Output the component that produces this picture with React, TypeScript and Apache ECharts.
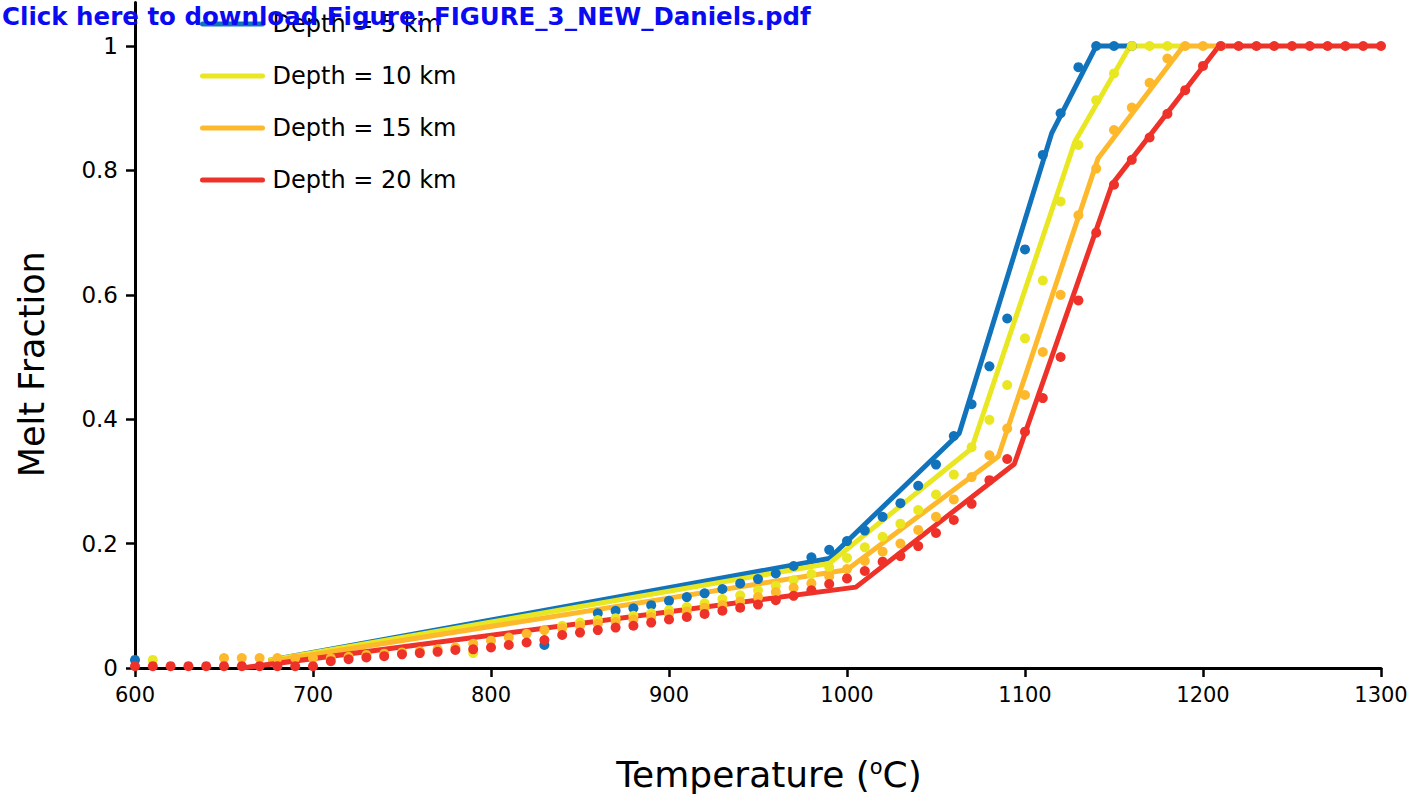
import React, { useEffect, useRef } from 'react';
import * as echarts from 'echarts';

const FONT = '"DejaVu Sans", sans-serif';

const titleText = 'Click here to download Figure: FIGURE_3_NEW_Daniels.pdf';
const xAxisName = 'Temperature ({sup|o}C)';
const yAxisName = 'Melt Fraction';

const depthNames = ['Depth = 5 km', 'Depth = 10 km', 'Depth = 15 km', 'Depth = 20 km'];
const dotNames = ['5 km data', '10 km data', '15 km data', '20 km data'];
const colors = ['#1173BB', '#E9E722', '#FDB92B', '#EE3229'];

const xTicks = [600, 700, 800, 900, 1000, 1100, 1200, 1300];
const yTicks = [0, 0.2, 0.4, 0.6, 0.8, 1];

// model lines (piecewise)
const lineT5 = [675, 990, 1063, 1115, 1140, 1160];
const lineV5 = [0.012, 0.176, 0.377, 0.86, 1.0, 1.0];
const lineT10 = [675, 990, 1070, 1128, 1159, 1190];
const lineV10 = [0.012, 0.168, 0.353, 0.846, 1.0, 1.0];
const lineT15 = [675, 1000, 1085, 1141, 1189, 1210];
const lineV15 = [0.01, 0.158, 0.34, 0.819, 1.0, 1.0];
const lineT20 = [660, 1005, 1094, 1149, 1209, 1300];
const lineV20 = [0.0, 0.13, 0.328, 0.778, 1.0, 1.0];

// data points
const dotT5 = [600, 830, 860, 870, 880, 890, 900, 910, 920, 930, 940, 950, 960, 970, 980, 990, 1000, 1010, 1020, 1030, 1040, 1050, 1060, 1070, 1080, 1090, 1100, 1110, 1120, 1130, 1140, 1150, 1160];
const dotV5 = [0.013, 0.037, 0.088, 0.092, 0.096, 0.101, 0.108, 0.114, 0.12, 0.127, 0.136, 0.143, 0.152, 0.164, 0.178, 0.19, 0.204, 0.221, 0.243, 0.265, 0.293, 0.327, 0.373, 0.424, 0.485, 0.562, 0.673, 0.825, 0.892, 0.966, 1.0, 1.0, 1.0];

const dotT10 = [610, 790, 840, 850, 860, 870, 880, 890, 900, 910, 920, 930, 940, 950, 960, 970, 980, 990, 1000, 1010, 1020, 1030, 1040, 1050, 1060, 1070, 1080, 1090, 1100, 1110, 1120, 1130, 1140, 1150, 1160, 1170, 1180];
const dotV10 = [0.013, 0.024, 0.068, 0.073, 0.077, 0.08, 0.084, 0.088, 0.093, 0.098, 0.104, 0.111, 0.117, 0.125, 0.132, 0.141, 0.151, 0.162, 0.177, 0.194, 0.211, 0.232, 0.254, 0.279, 0.311, 0.355, 0.399, 0.455, 0.53, 0.623, 0.75, 0.841, 0.913, 0.956, 1.0, 1.0, 1.0];

const dotT15 = [650, 660, 670, 680, 690, 700, 710, 720, 730, 740, 750, 760, 770, 780, 790, 800, 810, 820, 830, 840, 850, 860, 870, 880, 890, 900, 910, 920, 930, 940, 950, 960, 970, 980, 990, 1000, 1010, 1020, 1030, 1040, 1050, 1060, 1070, 1080, 1090, 1100, 1110, 1120, 1130, 1140, 1150, 1160, 1170, 1180, 1190, 1200, 1210];
const dotV15 = [0.016, 0.016, 0.016, 0.016, 0.016, 0.016, 0.016, 0.018, 0.021, 0.023, 0.025, 0.027, 0.03, 0.033, 0.039, 0.044, 0.049, 0.055, 0.061, 0.064, 0.068, 0.071, 0.074, 0.078, 0.082, 0.087, 0.091, 0.097, 0.101, 0.107, 0.114, 0.122, 0.129, 0.136, 0.147, 0.159, 0.172, 0.187, 0.2, 0.222, 0.243, 0.271, 0.307, 0.342, 0.385, 0.439, 0.508, 0.6, 0.728, 0.803, 0.865, 0.901, 0.941, 0.98, 1.0, 1.0, 1.0];

const dotT20 = [600, 610, 620, 630, 640, 650, 660, 670, 680, 690, 700, 710, 720, 730, 740, 750, 760, 770, 780, 790, 800, 810, 820, 830, 840, 850, 860, 870, 880, 890, 900, 910, 920, 930, 940, 950, 960, 970, 980, 990, 1000, 1010, 1020, 1030, 1040, 1050, 1060, 1070, 1080, 1090, 1100, 1110, 1120, 1130, 1140, 1150, 1160, 1170, 1180, 1190, 1200, 1210, 1220, 1230, 1240, 1250, 1260, 1270, 1280, 1290, 1300];
const dotV20 = [0.003, 0.003, 0.003, 0.003, 0.003, 0.003, 0.003, 0.003, 0.003, 0.003, 0.003, 0.011, 0.014, 0.017, 0.019, 0.022, 0.024, 0.026, 0.029, 0.03, 0.033, 0.037, 0.041, 0.045, 0.053, 0.057, 0.061, 0.065, 0.068, 0.073, 0.078, 0.082, 0.087, 0.092, 0.097, 0.102, 0.109, 0.116, 0.125, 0.135, 0.144, 0.156, 0.171, 0.18, 0.196, 0.217, 0.238, 0.264, 0.302, 0.336, 0.38, 0.434, 0.5, 0.591, 0.7, 0.777, 0.817, 0.853, 0.891, 0.929, 0.968, 1.0, 1.0, 1.0, 1.0, 1.0, 1.0, 1.0, 1.0, 1.0, 1.0];

const lineTs = [lineT5, lineT10, lineT15, lineT20];
const lineVs = [lineV5, lineV10, lineV15, lineV20];
const dotTs = [dotT5, dotT10, dotT15, dotT20];
const dotVs = [dotV5, dotV10, dotV15, dotV20];

const zip = (a: number[], b: number[]) => a.map((t, i) => [t, b[i]]);

export default function App() {
  const ref = useRef<HTMLDivElement>(null);
  useEffect(() => {
    if (!ref.current) return;
    const chart = echarts.init(ref.current, undefined, { renderer: 'svg' });
    const lineSeries = depthNames.map((name, i) => ({
      name,
      type: 'line',
      data: zip(lineTs[i], lineVs[i]),
      symbol: 'none',
      showSymbol: false,
      lineStyle: { color: colors[i], width: 5 },
      itemStyle: { color: colors[i] },
      z: 2,
    }));
    const dotSeries = dotNames.map((name, i) => ({
      name,
      type: 'scatter',
      data: zip(dotTs[i], dotVs[i]),
      symbol: 'circle',
      symbolSize: 10,
      itemStyle: { color: colors[i], opacity: 1 },
      z: 3,
    }));
    chart.setOption({
      animation: false,
      backgroundColor: '#ffffff',
      title: {
        text: titleText,
        left: 2,
        top: 4,
        padding: 0,
        z: 10,
        textStyle: { fontFamily: FONT, fontSize: 24.5, fontWeight: 'bold', color: '#0B0BF2' },
      },
      legend: {
        data: depthNames,
        orient: 'vertical',
        left: 200,
        top: 10,
        padding: 0,
        itemWidth: 60,
        itemHeight: 28,
        itemGap: 24,
        itemStyle: { opacity: 0, borderWidth: 0 },
        lineStyle: { width: 5, cap: 'round' },
        textStyle: { fontFamily: FONT, fontSize: 24, color: '#000', padding: [0, 0, 0, 5], lineHeight: 28 },
        z: 4,
      },
      grid: { left: 135, right: 38, top: 2.5, bottom: 134, containLabel: false },
      xAxis: {
        type: 'value',
        min: 600,
        max: 1300,
        interval: 100,
        name: xAxisName,
        nameLocation: 'middle',
        nameGap: 88,
        nameTextStyle: {
          fontFamily: FONT,
          fontSize: 36,
          color: '#000',
          padding: [0, 0, 0, 22],
          rich: { sup: { fontFamily: FONT, fontSize: 21, color: '#000', verticalAlign: 'top', lineHeight: 22 } },
        },
        splitLine: { show: false },
        axisLine: { onZero: false, lineStyle: { color: '#000', width: 3 } },
        axisTick: { show: true, inside: false, length: 9, lineStyle: { color: '#000', width: 2.5 } },
        axisLabel: {
          fontFamily: FONT,
          fontSize: 21,
          color: '#000',
          margin: 16,
          customValues: xTicks,
          formatter: (v: number) => String(v),
        },
      },
      yAxis: {
        type: 'value',
        min: 0,
        max: 1.07,
        name: yAxisName,
        nameLocation: 'middle',
        nameGap: 86,
        nameTextStyle: { fontFamily: FONT, fontSize: 35, color: '#000', padding: [0, 58, 0, 0] },
        splitLine: { show: false },
        axisLine: { onZero: false, lineStyle: { color: '#000', width: 3 } },
        axisTick: { show: true, inside: false, length: 9, lineStyle: { color: '#000', width: 2.5 }, customValues: yTicks },
        axisLabel: {
          fontFamily: FONT,
          fontSize: 23,
          color: '#000',
          margin: 17,
          customValues: yTicks,
          formatter: (v: number) => String(Math.round(v * 10) / 10),
        },
      },
      series: [...lineSeries, ...dotSeries],
    });
    return () => chart.dispose();
  }, []);
  return <div ref={ref} style={{ position: 'fixed', left: 0, top: 0, width: 1419, height: 802 }} />;
}
